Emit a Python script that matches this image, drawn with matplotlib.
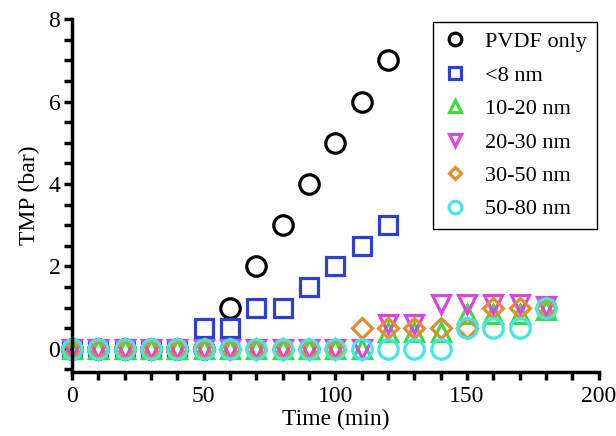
import numpy as np
import matplotlib
matplotlib.use("Agg")
from matplotlib import pyplot as plt
from matplotlib.ticker import MultipleLocator

plt.rcParams["font.family"] = ["Liberation Serif", "DejaVu Serif"]

time_min = [0, 10, 20, 30, 40, 50, 60, 70, 80, 90, 100, 110, 120, 130, 140, 150, 160, 170, 180]

pvdf_x = [0, 10, 20, 30, 40, 50, 60, 70, 80, 90, 100, 110, 120]
pvdf_only = [0, 0, 0, 0, 0, 0, 1, 2, 3, 4, 5, 6, 7]

lt8_x = [0, 10, 20, 30, 40, 50, 60, 70, 80, 90, 100, 110, 120]
lt8_nm = [0, 0, 0, 0, 0, 0.5, 0.5, 1, 1, 1.5, 2, 2.5, 3]

nm_10_20 = [0, 0, 0, 0, 0, 0, 0, 0, 0, 0, 0, 0, 0.4, 0.4, 0.4, 0.85, 0.85, 0.85, 0.95]
nm_20_30 = [0, 0, 0, 0, 0, 0, 0, 0, 0, 0, 0, 0, 0.6, 0.6, 1.1, 1.1, 1.1, 1.1, 1.05]
nm_30_50 = [0, 0, 0, 0, 0, 0, 0, 0, 0, 0, 0, 0.5, 0.5, 0.5, 0.5, 0.5, 1, 1, 1]
nm_50_80 = [0, 0, 0, 0, 0, 0, 0, 0, 0, 0, 0, 0, 0, 0, 0, 0.5, 0.5, 0.5, 1]

series = [
    (pvdf_x, pvdf_only, "o", 14, "black", "PVDF only"),
    (lt8_x, lt8_nm, "s", 13, "#2f3fcf", "<8 nm"),
    (time_min, nm_10_20, "^", 12.5, "#3ddc3d", "10-20 nm"),
    (time_min, nm_20_30, "v", 12.5, "#dc45dc", "20-30 nm"),
    (time_min, nm_30_50, "D", 10, "#e38c2e", "30-50 nm"),
    (time_min, nm_50_80, "o", 14, "#45e6e6", "50-80 nm"),
]

fig = plt.figure(figsize=(6.16, 4.36), dpi=100)
ax = fig.add_axes([0.117, 0.147, 0.855, 0.809])

for x, y, m, ms, c, lab in series:
    ax.plot(x, y, linestyle="none", marker=m, markersize=ms, markerfacecolor="none",
            markeredgecolor=c, markeredgewidth=2.3, label=lab, clip_on=False)

ax.set_xlim(0, 200)
ax.set_ylim(-0.56, 8)
ax.xaxis.set_major_locator(MultipleLocator(50))
ax.xaxis.set_minor_locator(MultipleLocator(10))
ax.yaxis.set_major_locator(MultipleLocator(2))
ax.yaxis.set_minor_locator(MultipleLocator(0.5))

for side in ["top", "right"]:
    ax.spines[side].set_visible(False)
for side in ["left", "bottom"]:
    ax.spines[side].set_linewidth(2.5)

ax.tick_params(which="both", direction="out", width=2.5, length=5.5, labelsize=17, pad=3)
ax.tick_params(axis="x", pad=5)

ax.set_xlabel("Time (min)", fontsize=17, labelpad=1)
ax.set_ylabel("TMP (bar)", fontsize=17, labelpad=6)

leg = ax.legend(loc="upper right", bbox_to_anchor=(0.997, 0.993), borderaxespad=0,
                fontsize=16, fancybox=False, edgecolor="black", framealpha=1,
                labelspacing=0.58, handletextpad=0.8, borderpad=0.45, handlelength=1.1,
                markerscale=0.65)
leg.get_frame().set_linewidth(1.0)

fig.savefig("out.png", dpi=100)
